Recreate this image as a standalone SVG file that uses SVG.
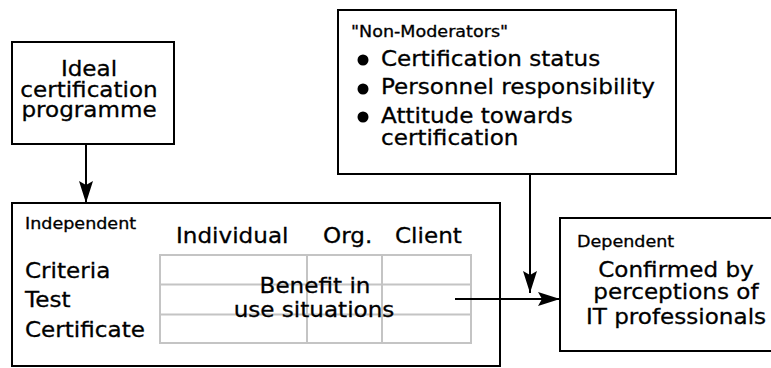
<svg xmlns="http://www.w3.org/2000/svg" width="771" height="368" viewBox="0 0 771 368">
  <style>
    .box { fill: #ffffff; stroke: #000000; stroke-width: 2; }
    .grid { fill: none; stroke: #c4c4c4; stroke-width: 2; }
    .wire { fill: none; stroke: #000000; stroke-width: 2; }
    text { font-family: "DejaVu Sans", "Liberation Sans", sans-serif; fill: #000000; stroke: #000000; stroke-width: 0.3; }
    .big { font-size: 22px; }
    .small { font-size: 15px; }
    .mid { text-anchor: middle; }
  </style>
  <defs>
    <marker id="head" markerUnits="userSpaceOnUse" markerWidth="24" markerHeight="16" refX="22" refY="7" orient="auto">
      <path d="M0,0 L22,7 L0,14 L4,7 Z" fill="#000000"/>
    </marker>
  </defs>
  <rect width="771" height="368" fill="#ffffff"/>

  <!-- wide-set lettering: big labels scaled 1.05 across, small captions 1.17 -->
  <g id="ideal">
    <rect class="box" x="12" y="42" width="162" height="102"/>
    <text class="big mid" transform="translate(89 76) scale(1.05 1)">Ideal</text>
    <text class="big mid" transform="translate(89 97) scale(1.05 1)">certification</text>
    <text class="big mid" transform="translate(89 117) scale(1.05 1)">programme</text>
  </g>

  <g id="moderators">
    <rect class="box" x="338" y="10" width="338" height="164"/>
    <text class="small" transform="translate(351 37) scale(1.17 1)">"Non-Moderators"</text>
    <circle cx="363" cy="60" r="5.5"/>
    <text class="big" transform="translate(381 66) scale(1.05 1)">Certification status</text>
    <circle cx="363" cy="89" r="5.5"/>
    <text class="big" transform="translate(381 94) scale(1.05 1)">Personnel responsibility</text>
    <circle cx="363" cy="117" r="5.5"/>
    <text class="big" transform="translate(381 123) scale(1.05 1)">Attitude towards</text>
    <text class="big" transform="translate(381 145) scale(1.05 1)">certification</text>
  </g>

  <g id="independent">
    <rect class="box" x="12" y="203" width="488" height="163"/>
    <text class="small" transform="translate(25 229) scale(1.17 1)">Independent</text>
    <text class="big" transform="translate(176 243) scale(1.05 1)">Individual</text>
    <text class="big" transform="translate(323 243) scale(1.05 1)">Org.</text>
    <text class="big" transform="translate(395 243) scale(1.05 1)">Client</text>
    <text class="big" transform="translate(25 278) scale(1.05 1)">Criteria</text>
    <text class="big" transform="translate(25 307) scale(1.05 1)">Test</text>
    <text class="big" transform="translate(25 337) scale(1.05 1)">Certificate</text>
    <rect class="grid" x="160" y="255" width="311" height="88"/>
    <path class="grid" d="M160,284.5 H471 M160,314.5 H471 M307,255 V343 M382,255 V343"/>
    <text class="big mid" transform="translate(315 293) scale(1.05 1)">Benefit in</text>
    <text class="big mid" transform="translate(314 317) scale(1.05 1)">use situations</text>
  </g>

  <g id="dependent">
    <rect class="box" x="560" y="218" width="220" height="133"/>
    <text class="small" transform="translate(577 247) scale(1.17 1)">Dependent</text>
    <text class="big mid" transform="translate(676 277) scale(1.05 1)">Confirmed by</text>
    <text class="big mid" transform="translate(676 299) scale(1.05 1)">perceptions of</text>
    <text class="big mid" transform="translate(676 324) scale(1.05 1)">IT professionals</text>
  </g>

  <g id="connectors">
    <path class="wire" d="M86,144 V203" marker-end="url(#head)"/>
    <path class="wire" d="M530,174 V293" marker-end="url(#head)"/>
    <path class="wire" d="M455,299 H560" marker-end="url(#head)"/>
  </g>
</svg>
